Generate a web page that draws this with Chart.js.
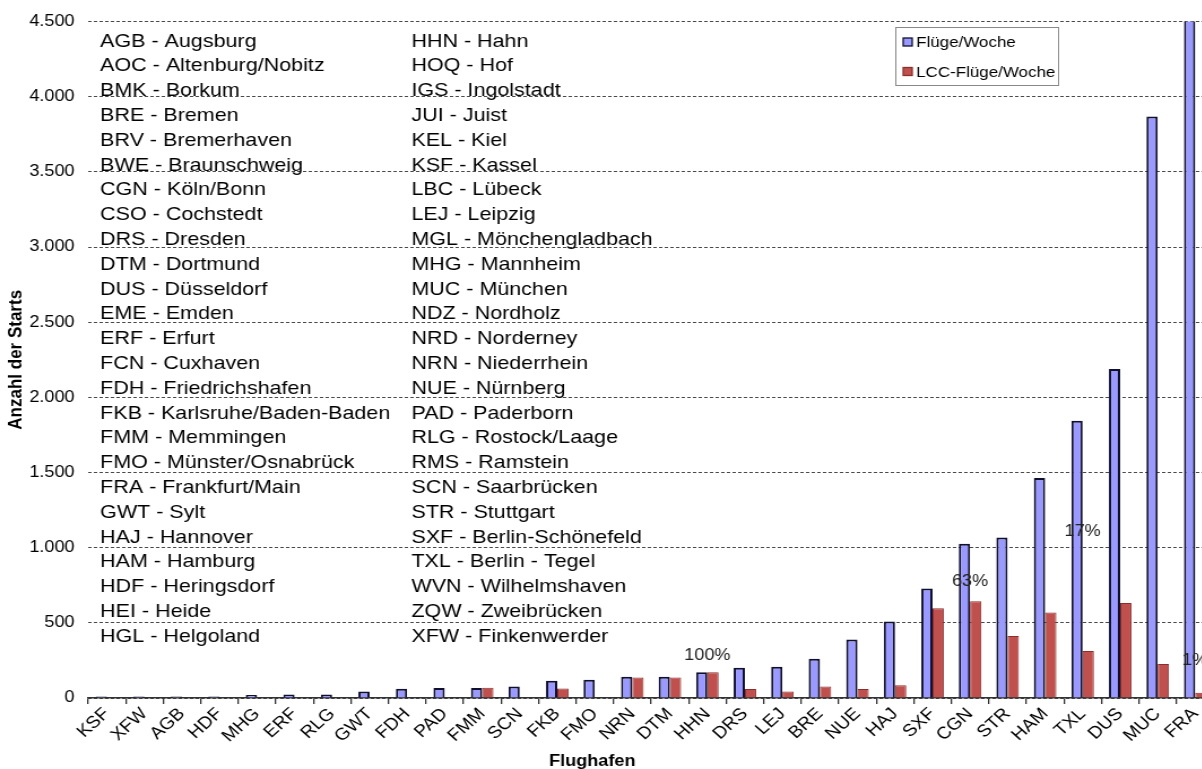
<!DOCTYPE html>
<html lang="de">
  <head>
    <meta charset="UTF-8" />
    <title>Flüge pro Woche nach Flughafen</title>
    <script src="https://cdn.jsdelivr.net/npm/chart.js"></script>
    <style>
      html,
      body {
        margin: 0;
        padding: 0;
        background: #fff;
        overflow: hidden;
      }
    </style>
  </head>
  <body>
    <!-- the source picture is stretched ~1.13x horizontally, so is the canvas -->
    <canvas
      id="chart"
      width="1074"
      height="769"
      style="display: block; width: 1214px; height: 769px"
    ></canvas>

    <script>
      const airports = [
        "KSF", "XFW", "AGB", "HDF", "MHG", "ERF", "RLG", "GWT", "FDH", "PAD",
        "FMM", "SCN", "FKB", "FMO", "NRN", "DTM", "HHN", "DRS", "LEJ", "BRE",
        "NUE", "HAJ", "SXF", "CGN", "STR", "HAM", "TXL", "DUS", "MUC", "FRA",
      ];
      const flightsPerWeek = [
        10, 10, 10, 10, 20, 24, 24, 44, 62, 66,
        66, 77, 115, 122, 142, 142, 172, 201, 208, 261,
        390, 509, 729, 1026, 1067, 1463, 1845, 2189, 3869, 4600,
      ];
      const lccFlightsPerWeek = [
        0, 0, 0, 4, 0, 4, 4, 0, 4, 4,
        69, 0, 64, 0, 137, 137, 172, 60, 44, 77,
        60, 84, 597, 644, 413, 569, 312, 632, 226, 35,
      ];

      const yMax = 4500;
      const yStep = 500;

      // LCC share labels above some bars
      const shareLabels = ["100%", "63%", "17%", "1%"];
      const shareAirports = ["HHN", "CGN", "TXL", "FRA"];
      const shareLevels = [282, 777, 1105, 252];

      const codeListLeft = [
        "AGB - Augsburg", "AOC - Altenburg/Nobitz", "BMK - Borkum", "BRE - Bremen",
        "BRV - Bremerhaven", "BWE - Braunschweig", "CGN - Köln/Bonn", "CSO - Cochstedt",
        "DRS - Dresden", "DTM - Dortmund", "DUS - Düsseldorf", "EME - Emden",
        "ERF - Erfurt", "FCN - Cuxhaven", "FDH - Friedrichshafen",
        "FKB - Karlsruhe/Baden-Baden", "FMM - Memmingen", "FMO - Münster/Osnabrück",
        "FRA - Frankfurt/Main", "GWT - Sylt", "HAJ - Hannover", "HAM - Hamburg",
        "HDF - Heringsdorf", "HEI - Heide", "HGL - Helgoland",
      ];
      const codeListRight = [
        "HHN - Hahn", "HOQ - Hof", "IGS - Ingolstadt", "JUI - Juist", "KEL - Kiel",
        "KSF - Kassel", "LBC - Lübeck", "LEJ - Leipzig", "MGL - Mönchengladbach",
        "MHG - Mannheim", "MUC - München", "NDZ - Nordholz", "NRD - Norderney",
        "NRN - Niederrhein", "NUE - Nürnberg", "PAD - Paderborn", "RLG - Rostock/Laage",
        "RMS - Ramstein", "SCN - Saarbrücken", "STR - Stuttgart",
        "SXF - Berlin-Schönefeld", "TXL - Berlin - Tegel", "WVN - Wilhelmshaven",
        "ZQW - Zweibrücken", "XFW - Finkenwerder",
      ];

      const FONT = 'Arial, "Liberation Sans", sans-serif';
      const TEXT = "#000";
      const BLUE = "#9999ff";
      const BLUE_EDGE = "#10102e";
      const RED = "#c0504d";
      const RED_EDGE = "#8a2f2c";

      const seriesNames = ["Flüge/Woche", "LCC-Flüge/Woche"];

      const fmt = (v) => String(v).replace(/\B(?=(\d{3})+(?!\d))/g, ".");

      const overlay = {
        id: "overlay",
        afterDatasetsDraw(chart) {
          const { ctx, chartArea, scales } = chart;
          ctx.save();
          ctx.fillStyle = TEXT;

          // code list in two columns
          ctx.font = `19px ${FONT}`;
          ctx.textAlign = "left";
          ctx.textBaseline = "alphabetic";
          codeListLeft.forEach((t, i) =>
            ctx.fillText(t, chartArea.left + 10.6, chartArea.top + 25 + i * 24.8)
          );
          codeListRight.forEach((t, i) =>
            ctx.fillText(t, chartArea.left + 286, chartArea.top + 25 + i * 24.8)
          );

          // share labels
          ctx.font = `16px ${FONT}`;
          ctx.fillStyle = "#222";
          ctx.textAlign = "center";
          ctx.textBaseline = "middle";
          shareLabels.forEach((t, i) => {
            const px = scales.x.getPixelForValue(airports.indexOf(shareAirports[i]));
            ctx.fillText(t, px, scales.y.getPixelForValue(shareLevels[i]));
          });

          // legend box
          const lx = 792, ly = 27;
          ctx.strokeStyle = "#888";
          ctx.lineWidth = 1;
          ctx.strokeRect(lx + 0.5, ly + 0.5, 144, 58);
          const swatches = [[BLUE, BLUE_EDGE], [RED, RED_EDGE]];
          ctx.font = `15px ${FONT}`;
          ctx.textAlign = "left";
          seriesNames.forEach((name, i) => {
            const cy = ly + 15 + i * 29.5;
            ctx.fillStyle = swatches[i][0];
            ctx.fillRect(lx + 7, cy - 4, 8, 8);
            ctx.strokeStyle = swatches[i][1];
            ctx.lineWidth = 1.3;
            ctx.strokeRect(lx + 7, cy - 4, 8, 8);
            ctx.fillStyle = TEXT;
            ctx.fillText(name, lx + 18.5, cy + 1);
          });

          // x axis title
          ctx.font = `bold 16px ${FONT}`;
          ctx.textAlign = "center";
          ctx.textBaseline = "alphabetic";
          ctx.fillText("Flughafen", 524, 766);
          ctx.restore();
        },
      };

      new Chart(document.getElementById("chart"), {
        type: "bar",
        data: {
          labels: airports,
          datasets: [
            {
              label: seriesNames[0],
              data: flightsPerWeek,
              backgroundColor: BLUE,
              borderColor: BLUE_EDGE,
              borderWidth: 2,
              categoryPercentage: 0.6,
              barPercentage: 1.0,
            },
            {
              label: seriesNames[1],
              data: lccFlightsPerWeek,
              backgroundColor: RED,
              borderColor: RED_EDGE,
              borderWidth: 1,
              categoryPercentage: 0.6,
              barPercentage: 1.0,
            },
          ],
        },
        options: {
          responsive: false,
          animation: false,
          layout: { padding: { top: 20, right: 0, bottom: 0, left: 0 } },
          scales: {
            x: {
              afterFit: (s) => {
                s.height = 71;
              },
              grid: {
                drawOnChartArea: false,
                drawTicks: true,
                tickLength: 6,
                color: "#333",
                lineWidth: 1.3,
              },
              border: { display: true, color: "#333", width: 1.5 },
              ticks: {
                color: TEXT,
                font: { family: FONT, size: 17 },
                maxRotation: 45,
                minRotation: 45,
                autoSkip: false,
                padding: 0,
              },
            },
            y: {
              min: 0,
              max: yMax,
              afterFit: (s) => {
                s.width = 78;
              },
              grid: { color: "#4a4a4a", lineWidth: 1, drawTicks: false },
              border: { display: false, dash: [3, 2] },
              ticks: {
                stepSize: yStep,
                color: TEXT,
                font: { family: FONT, size: 16 },
                padding: 12,
                callback: (v) => fmt(v),
              },
              title: {
                display: true,
                text: "Anzahl der Starts",
                color: TEXT,
                font: { family: FONT, size: 17, weight: "bold" },
                padding: { top: 4.5, bottom: 0 },
              },
            },
          },
          plugins: {
            legend: { display: false },
            tooltip: { enabled: false },
          },
        },
        plugins: [overlay],
      });
    </script>
  </body>
</html>
